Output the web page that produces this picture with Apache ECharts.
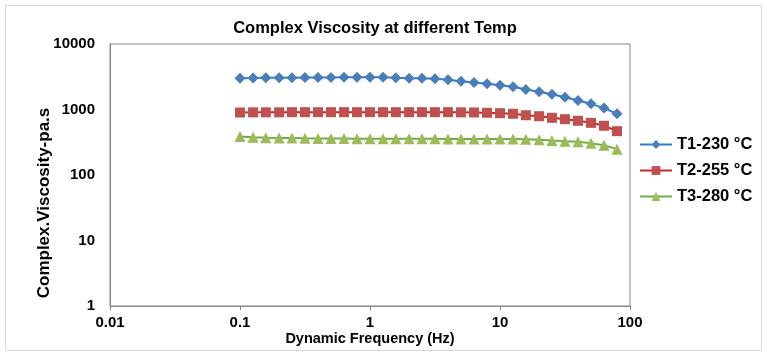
<!DOCTYPE html>
<html>
<head>
<meta charset="utf-8">
<script src="https://cdn.jsdelivr.net/npm/echarts@6/dist/echarts.min.js"></script>
<style>
  html, body { margin: 0; padding: 0; background: #fff; }
  #chart { width: 767px; height: 357px; }
</style>
</head>
<body>
<div id="chart"></div>
<script>
// frequency (Hz), 10 points per decade
const freq = [0.1, 0.126, 0.158, 0.2, 0.251, 0.316, 0.398, 0.501, 0.631, 0.794,
  1, 1.26, 1.58, 2, 2.51, 3.16, 3.98, 5.01, 6.31, 7.94,
  10, 12.6, 15.8, 20, 25.1, 31.6, 39.8, 50.1, 63.1, 79.4]

// complex viscosity (pa.s)
const t1 = [3000, 3020, 3040, 3050, 3060, 3070, 3080, 3090, 3100, 3110,
  3110, 3100, 3050, 3010, 3000, 2940, 2840, 2700, 2580, 2470,
  2350, 2220, 2020, 1860, 1710, 1540, 1370, 1220, 1050, 860]
const t2 = [900, 905, 905, 905, 910, 910, 910, 910, 910, 910,
  910, 910, 910, 910, 910, 910, 910, 905, 900, 891,
  879, 860, 818, 790, 747, 711, 672, 626, 564, 467]
const t3 = [387, 377, 372, 368, 366, 363, 362, 361, 360, 359,
  358, 357, 357, 357, 357, 357, 356, 355, 355, 354,
  354, 353, 352, 345, 336, 328, 321, 306, 285, 248]

const seriesNames = ['T1-230 °C', 'T2-255 °C', 'T3-280 °C']
const xTickLabels = ['0.01', '0.1', '1', '10', '100']
const yTickLabels = ['1', '10', '100', '1000', '10000']

const FONT = '"Liberation Sans", Arial, sans-serif'
const axisColor = '#878787'

const pairs = (ys) => freq.map((f, i) => [f, ys[i]])

const chart = echarts.init(document.getElementById('chart'))

// 单个系列的样式
const makeSeries = (name, ys, symbol, size, lineColor, markColor) => ({
  name: name,
  type: 'line',
  data: pairs(ys),
  symbol: symbol,
  symbolSize: size,
  showSymbol: true,
  lineStyle: {color: lineColor, width: 2},
  itemStyle: {color: markColor},
  emphasis: {disabled: true},
})

chart.setOption({
  animation: false,
  title: {
    text: 'Complex Viscosity at different Temp',
    left: 370,
    textAlign: 'center',
    top: 15,
    textStyle: {fontFamily: FONT, fontSize: 16.5, fontWeight: 'bold', color: '#000'},
  },
  graphic: [{
    type: 'rect',
    shape: {x: 5.5, y: 5.5, width: 756, height: 345},
    style: {fill: 'none', stroke: '#d9d9d9', lineWidth: 1},
    silent: true,
  }],
  legend: {
    orient: 'vertical',
    left: 639,
    top: 136,
    padding: 0,
    itemWidth: 32,
    itemHeight: 11,
    itemGap: 9,
    textStyle: {fontFamily: FONT, fontSize: 16.5, fontWeight: 'bold', color: '#000'},
    data: seriesNames,
  },
  grid: {
    left: 110,
    right: 137,
    top: 44,
    bottom: 51,
    show: true,
    borderColor: axisColor,
    borderWidth: 1,
    containLabel: false,
  },
  xAxis: {
    type: 'log',
    logBase: 10,
    min: 0.01,
    max: 100,
    name: 'Dynamic Frequency (Hz)',
    nameLocation: 'middle',
    nameGap: 25,
    nameMoveOverlap: false,
    nameTextStyle: {fontFamily: FONT, fontSize: 14.5, fontWeight: 'bold', color: '#000'},
    axisLine: {lineStyle: {color: axisColor}},
    axisTick: {show: true, length: 4, lineStyle: {color: axisColor}},
    splitLine: {show: false},
    axisLabel: {
      fontFamily: FONT, fontSize: 15, fontWeight: 'bold', color: '#000', margin: 9,
      formatter: (v, i) => xTickLabels[i],
    },
  },
  yAxis: {
    type: 'log',
    logBase: 10,
    min: 1,
    max: 10000,
    name: 'Complex.Viscosity-pa.s',
    nameLocation: 'middle',
    nameGap: 57,
    nameMoveOverlap: false,
    nameTextStyle: {fontFamily: FONT, fontSize: 17, fontWeight: 'bold', color: '#000', padding: [0, 56, 0, 0]},
    axisLine: {show: true, lineStyle: {color: axisColor}},
    axisTick: {show: false},
    splitLine: {show: false},
    axisLabel: {
      fontFamily: FONT, fontSize: 15, fontWeight: 'bold', color: '#000', margin: 15,
      formatter: (v, i) => yTickLabels[i],
    },
  },
  series: [
    makeSeries(seriesNames[0], t1, 'diamond', 11, '#2f7bd0', '#4a7ebb'),
    makeSeries(seriesNames[1], t2, 'rect', 10, '#c8262a', '#c0504d'),
    makeSeries(seriesNames[2], t3, 'triangle', 11, '#70ad47', '#9bbb59'),
  ],
})
</script>
</body>
</html>
